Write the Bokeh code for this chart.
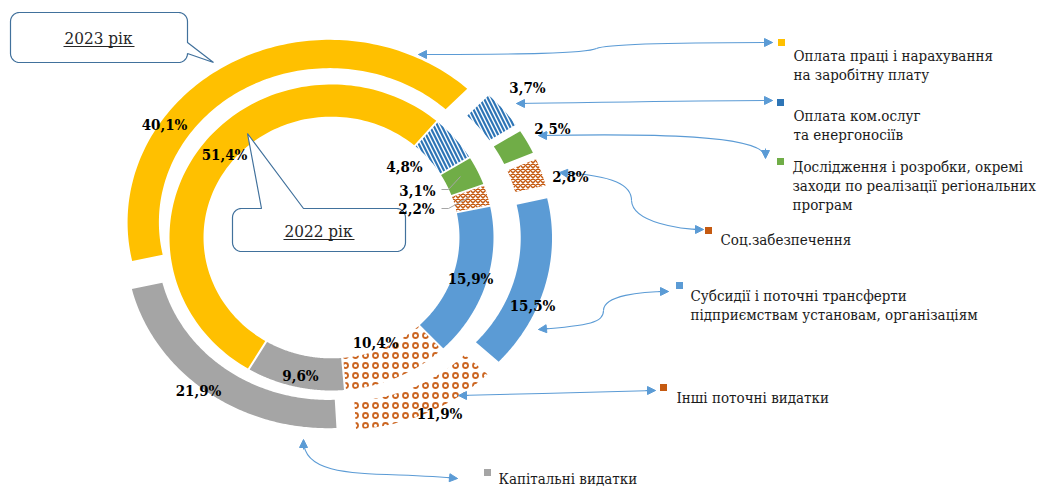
import numpy as np
from bokeh.plotting import figure
from bokeh.models import Range1d, Arrow, NormalHead, ColumnDataSource
from bokeh.embed import file_html
from bokeh.resources import INLINE
from bokeh.core.properties import value

# ---- data -------------------------------------------------------------
categories = [
    "Оплата праці  і нарахування на заробітну плату",
    "Оплата ком.ослуг та енергоносіїв",
    "Дослідження і розробки, окремі заходи по реалізації регіональних програм",
    "Соц.забезпечення",
    "Субсидії і поточні трансферти підприємствам установам, організаціям",
    "Інші поточні видатки",
    "Капітальні видатки",
]
legend_lines = [
    ["Оплата праці  і нарахування", "на заробітну плату"],
    ["Оплата ком.ослуг", "та енергоносіїв"],
    ["Дослідження і розробки, окремі", "заходи по реалізації регіональних", "програм"],
    ["Соц.забезпечення"],
    ["Субсидії і поточні трансферти", "підприємствам установам, організаціям"],
    ["Інші поточні видатки"],
    ["Капітальні видатки"],
]
share_2022 = [51.4, 4.8, 3.1, 2.2, 15.9, 10.4, 9.6]
share_2023 = [40.1, 3.7, 2.5, 2.8, 15.5, 11.9, 21.9]
year_titles = ["2023 рік", "2022 рік"]

# ---- styles -----------------------------------------------------------
SERIF_NARROW = value("DejaVu Serif Condensed, DejaVu Serif")
ARROW = "#5B9BD5"
BOX = "#41719C"
fills = ["#FFC000", "#FFFFFF", "#70AD47", "#FFFFFF", "#5B9BD5", "#FFFFFF", "#A5A5A5"]
hatches = [" ", "\\", " ", "x", " ", "ring", " "]
hatch_colors = ["#FFC000", "#2E75B6", "#70AD47", "#C55A11", "#5B9BD5", "#CC6622", "#A5A5A5"]
hatch_scales = [8, 8, 8, 5, 8, 10, 8]
hatch_weights = [1, 2.2, 1, 1.5, 1, 1.8, 1]
marker_colors = ["#FFC000", "#2E75B6", "#70AD47", "#C55A11", "#5B9BD5", "#C55A11", "#A5A5A5"]


def pct(v):
    return f"{v:.1f}%".replace(".", ",")


def ring(values, start_deg, cx, cy, rx, ry, inner, gap, explode, n=120):
    """Doughnut ring slices (clockwise from start_deg) as polygons in pixel space."""
    v = np.asarray(values, float)
    spans = v / v.sum() * 2 * np.pi
    hi = np.deg2rad(start_deg) - np.concatenate([[0], np.cumsum(spans)[:-1]])
    lo = hi - spans
    r_out = (rx + ry) / 2
    r_in = r_out * inner
    xs, ys = [], []
    for a0, a1 in zip(lo, hi):
        mid = (a0 + a1) / 2
        ox, oy = explode * np.cos(mid), -explode * np.sin(mid)
        d_o, d_i = gap / 2 / r_out, gap / 2 / r_in
        t_o = np.linspace(a0 + d_o, a1 - d_o, n)
        t_i = np.linspace(a1 - d_i, a0 + d_i, n)
        px = np.concatenate([cx + rx * np.cos(t_o), cx + rx * inner * np.cos(t_i)]) + ox
        py = np.concatenate([cy - ry * np.sin(t_o), cy - ry * inner * np.sin(t_i)]) + oy
        xs.append(px.tolist())
        ys.append(py.tolist())
    return xs, ys


def callout(x0, y0, x1, y1, r, side, t0, t1, tip):
    xs, ys = [], []

    def arc(cx, cy, a_from, a_to):
        for a in np.linspace(a_from, a_to, 10):
            xs.append(cx + r * np.cos(a))
            ys.append(cy + r * np.sin(a))

    arc(x0 + r, y0 + r, np.pi, 1.5 * np.pi)
    if side == "top":
        xs.extend([t0, tip[0], t1]); ys.extend([y0, tip[1], y0])
    arc(x1 - r, y0 + r, 1.5 * np.pi, 2 * np.pi)
    if side == "right":
        xs.extend([x1, tip[0], x1]); ys.extend([t0, tip[1], t1])
    arc(x1 - r, y1 - r, 0, 0.5 * np.pi)
    arc(x0 + r, y1 - r, 0.5 * np.pi, np.pi)
    return xs, ys


W, H = 1038, 489
p = figure(width=W, height=H, x_range=Range1d(0, W), y_range=Range1d(H, 0),
           output_backend="svg", toolbar_location=None, min_border=0)
p.axis.visible = False
p.grid.visible = False
p.outline_line_color = None
p.background_fill_color = "white"


def draw_ring(values, **geo):
    xs, ys = ring(values, **geo)
    src = ColumnDataSource(dict(xs=xs, ys=ys, fill=fills, hatch=hatches,
                                hcol=hatch_colors, hsc=hatch_scales, hw=hatch_weights))
    p.patches("xs", "ys", source=src, fill_color="fill", line_color=None,
              hatch_pattern="hatch", hatch_color="hcol", hatch_scale="hsc",
              hatch_weight="hw")


# 2023 outer ring (exploded), 2022 inner ring
draw_ring(share_2023, start_deg=193, cx=336, cy=234, rx=202, ry=182.5,
          inner=0.845, gap=5, explode=14)
draw_ring(share_2022, start_deg=239.3, cx=331, cy=237, rx=162, ry=153,
          inner=0.79, gap=2, explode=0)

# year callouts
bx, by = callout(10, 12, 187, 62, 9, "right", 42, 53, (213, 62))
p.patch(bx, by, fill_color="white", line_color=BOX, line_width=1.2)
bx, by = callout(232, 208, 405, 251, 9, "top", 261, 303, (247, 133))
p.patch(bx, by, fill_color="white", line_color=BOX, line_width=1.2)
p.text(x=[98, 318], y=[37, 230], text=year_titles, text_font=SERIF_NARROW,
       text_font_size="17px", text_align="center", text_baseline="middle",
       text_color="#262626")
p.segment(x0=[63, 283], y0=[46, 239], x1=[134, 354], y1=[46, 239],
          line_color="#262626", line_width=1)

# connector arrows between slices and legend entries
curves = [
    # (x0, y0, cx0, cy0, cx1, cy1, x1, y1)
    (418, 54, 520, 54, 585, 53, 596, 48),
    (596, 48, 605, 44, 650, 42, 772, 42),
    (516, 103, 600, 102, 700, 100, 772, 100),
    (538, 135, 650, 133, 765, 134, 765, 157),
    (560, 172, 615, 175, 631, 185, 631, 200),
    (631, 200, 632, 222, 680, 229, 703, 229),
    (538, 329, 590, 325, 603, 322, 603, 310),
    (603, 310, 603, 295, 640, 291, 668, 291),
    (458, 395, 520, 394, 600, 391, 655, 390),
    (303, 440, 303, 482, 380, 470, 457, 478),
]
c = np.array(curves, float).T
p.bezier(x0=c[0], y0=c[1], cx0=c[2], cy0=c[3], cx1=c[4], cy1=c[5], x1=c[6], y1=c[7],
         line_color=ARROW, line_width=1.1)
heads = [  # (tip, point behind the tip)
    ((418, 54), (428, 54)), ((772, 42), (762, 42)),
    ((516, 103), (526, 103)), ((772, 100), (762, 100)),
    ((538, 135), (548, 135)), ((765, 158), (765, 148)),
    ((559, 172), (569, 173)), ((703, 229), (693, 229)),
    ((538, 329), (548, 328)), ((668, 291), (658, 291)),
    ((458, 395), (468, 395)), ((655, 390), (645, 390)),
    ((303, 439), (303, 449)), ((457, 478), (447, 477)),
]
for tip, back in heads:
    p.add_layout(Arrow(end=NormalHead(size=8, fill_color=ARROW, line_color=ARROW, line_width=1),
                       x_start=back[0], y_start=back[1], x_end=tip[0], y_end=tip[1],
                       line_color=ARROW, line_width=1))

# leader lines for the two small 2022 labels
p.multi_line(xs=[[441, 448, 460], [441, 448, 468]], ys=[[189, 189, 176], [208, 208, 197]],
             line_color="#A6A6A6", line_width=1)

# value labels
pos_2023 = [(164, 124), (527, 87), (552, 128), (570, 176), (532, 305), (439, 413), (198, 390)]
pos_2022 = [(224, 154), (404, 166), (417, 190), (416, 208), (470, 278), (375, 342), (300, 375)]
lx = [q[0] for q in pos_2023 + pos_2022]
ly = [q[1] for q in pos_2023 + pos_2022]
lt = [pct(v) for v in share_2023 + share_2022]
p.text(x=lx, y=ly, text=lt, text_font=SERIF_NARROW, text_font_style="bold",
       text_font_size="15px", text_align="center", text_baseline="middle", text_color="black")

# legend
marker_pos = [(781, 42), (780, 102), (780, 161), (708, 230), (679, 285), (663, 387), (487, 472)]
text_pos = [(793, 55), (793, 115), (792, 166), (720, 239), (690, 295), (676, 397), (498, 478)]
p.scatter(x=[m[0] for m in marker_pos], y=[m[1] for m in marker_pos], marker="square",
          size=7, fill_color=marker_colors, line_color=None)
tx, ty, tt = [], [], []
for (x0, y0), lines in zip(text_pos, legend_lines):
    for i, s in enumerate(lines):
        tx.append(x0); ty.append(y0 + i * 19); tt.append(s)
p.text(x=tx, y=ty, text=tt, text_font=SERIF_NARROW, text_font_size="15px",
       text_align="left", text_baseline="middle", text_color="#1A1A1A")

open("out.html", "w").write(file_html(p, INLINE))
